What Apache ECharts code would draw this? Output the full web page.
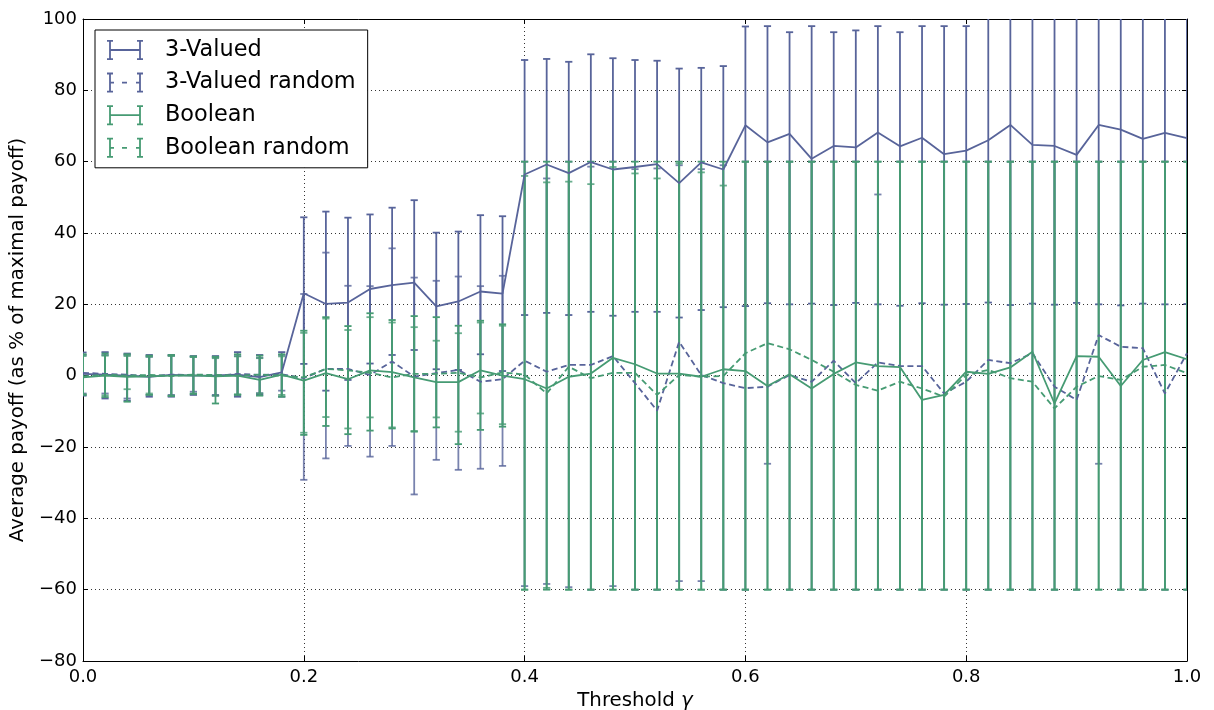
<!DOCTYPE html>
<html><head><meta charset="utf-8">
<script src="https://cdn.jsdelivr.net/npm/echarts/dist/echarts.min.js"></script>
<style>html,body{margin:0;padding:0;background:#fff}#c{width:1214px;height:710px}</style>
</head><body><div id="c"></div><script>
const thresholds = [0.00,0.02,0.04,0.06,0.08,0.10,0.12,0.14,0.16,0.18,0.20,0.22,0.24,0.26,0.28,0.30,0.32,0.34,0.36,0.38,0.40,0.42,0.44,0.46,0.48,0.50,0.52,0.54,0.56,0.58,0.60,0.62,0.64,0.66,0.68,0.70,0.72,0.74,0.76,0.78,0.80,0.82,0.84,0.86,0.88,0.90,0.92,0.94,0.96,0.98,1.00];
const xTicks = [0.0,0.2,0.4,0.6,0.8,1.0];
const yTicks = [-80,-60,-40,-20,0,20,40,60,80,100];
const seriesNames = ['3-Valued','3-Valued random','Boolean','Boolean random'];

const v3Mean = [0.5,0.3,0.0,-0.3,0.2,0.0,0.1,0.3,-0.4,0.9, 23.1,20.1,20.5,24.3,25.4,26.1,19.4,20.8,23.6,23.0, 56.4,59.2,56.8,59.9,57.8,58.5,59.3,54.0,59.8,57.8, 70.2,65.4,67.8,60.8,64.4,64.0,68.2,64.3,66.7,62.1, 63.1,66.0,70.3,64.7,64.4,61.9,70.3,69.0,66.4,68.1, 66.6];
const v3Lo = [-5.6,-6.4,-7.0,-5.9,-5.9,-5.4,-5.6,-5.9,-5.4,-5.9, 3.3,-4.2,-1.2,3.4,5.8,7.2,1.8,1.6,6.0,1.3, 17.0,17.6,17.0,17.9,16.8,17.9,17.9,16.3,18.4,19.2, 19.5,20.3,20.0,20.2,19.8,20.4,20.0,19.6,20.3,19.9, 20.1,20.5,19.8,20.2,19.9,20.4,20.0,19.7,20.2,20.0, 20.1];
const v3Hi = [6.5,6.6,6.2,5.8,5.8,5.5,5.5,6.6,5.8,6.6, 44.4,46.0,44.3,45.2,47.1,49.2,40.1,40.4,45.0,44.7, 88.5,88.8,88.0,90.1,89.0,88.5,88.3,86.1,86.3,86.8, 97.9,98.0,96.3,98.0,96.3,96.8,98.0,96.3,98.0,98.0, 98.0,108,110,106,109,107,111,108,110,107, 109];

const v3rMean = [0.8,0.5,0.3,-0.2,0.3,0.2,-0.1,0.5,0.2,0.4, -0.7,1.9,1.9,0.2,4.0,-0.3,0.7,1.6,-1.7,-1.0, 4.2,1.1,3.0,3.0,5.5,-2.1,-9.8,9.5,0.2,-2.1, -3.5,-3.1,0.2,-1.7,4.2,-2.1,3.7,2.7,2.7,-5.0, -1.7,4.4,3.5,6.3,-3.1,-6.8,11.4,8.1,7.7,-5.0, 6.3];
const v3rLo = [-5.0,-5.0,-6.4,-5.4,-5.4,-4.5,-5.4,-5.4,-4.9,-4.2, -29.2,-23.2,-19.7,-22.7,-19.7,-33.3,-23.6,-26.4,-26.1,-25.3, -59.0,-58.4,-59.3,-60,-59.0,-60,-60,-57.6,-57.6,-60, -60,-24.7,-60,-60,-60,-60,-60,-60,-60,-60, -60,-60,-60,-60,-60,-60,-24.7,-60,-60,-60, -60];
const v3rHi = [5.8,5.8,5.8,5.3,5.6,5.3,5.1,5.5,5.0,5.8, 22.9,34.5,25.2,25.1,35.7,27.5,26.6,27.8,25.1,28.0, 60,55.3,60,58.6,60,57.9,58.1,59.0,57.9,59.0, 60,60,60,60,60,60,50.8,60,60,60, 60,60,60,60,60,60,60,60,60,60, 60];

const vbMean = [-0.5,0.0,-0.3,-0.2,0.0,0.1,-0.2,0.0,-1.2,0.3, -1.4,0.7,-1.0,1.5,1.0,-0.5,-1.8,-1.8,1.5,0.0, -1.0,-3.6,-0.3,0.6,5.0,3.2,0.6,0.6,-0.3,1.8, 1.3,-2.9,0.4,-3.6,0.5,3.7,2.7,2.4,-6.8,-5.4, 1.1,0.5,2.3,6.7,-7.8,5.5,5.3,-2.9,4.4,6.6, 4.6];
const vbLo = [-5.4,-6.0,-7.3,-5.4,-5.7,-5.1,-7.8,-5.4,-5.6,-5.9, -16.6,-14.1,-16.4,-15.4,-14.8,-15.7,-14.5,-19.2,-15.2,-14.3, -60,-60,-60,-60,-60,-60,-60,-60,-60,-60, -60,-60,-60,-60,-60,-60,-60,-60,-60,-60, -60,-60,-60,-60,-60,-60,-60,-60,-60,-60, -60];
const vbHi = [6.0,6.2,6.0,5.6,5.8,5.4,5.3,6.0,5.6,6.0, 12.6,16.4,13.9,17.5,15.6,16.7,16.4,14.0,15.4,14.4, 60,60,60,60,60,60,60,60,60,60, 60,60,60,60,60,60,60,60,60,60, 60,60,60,60,60,60,60,60,60,60, 60];

const vbrMean = [-0.2,0.3,0.0,0.2,-0.1,0.3,0.2,0.0,0.3,0.0, -0.5,1.9,1.5,0.8,-0.5,0.5,0.5,0.8,-0.5,0.9, 0.3,-5.0,2.5,-0.7,0.8,0.8,-5.4,0.2,-0.3,-0.1, 6.3,9.1,7.4,4.4,1.1,-2.6,-4.2,-1.7,-3.6,-5.9, 0.2,1.6,-0.7,-1.7,-9.2,-3.1,-0.1,-1.2,2.5,3.0, 0.7];
const vbrLo = [-5.2,-5.5,-3.8,-5.0,-5.6,-5.0,-5.6,-5.2,-5.0,-5.4, -16.0,-11.6,-14.8,-11.7,-14.5,-15.5,-11.7,-15.7,-10.6,-13.6, -60,-59.5,-60,-60,-60,-60,-60,-60,-60,-60, -60,-60,-60,-60,-60,-60,-60,-60,-60,-60, -60,-60,-60,-60,-60,-60,-60,-60,-60,-60, -60];
const vbrHi = [5.5,5.6,5.5,5.3,5.5,5.2,4.9,5.4,4.9,5.4, 12.0,16.0,12.8,16.4,14.9,13.6,9.8,11.9,14.9,14.0, 56.0,54.2,54.4,53.7,58.5,56.7,55.3,59.5,57.0,53.3, 60,60,60,60,60,60,60,60,60,60, 60,60,60,60,60,60,60,60,60,60, 60];

const BLUE = '#58649a';
const GREEN = '#469b73';
const FONT = 'DejaVu Sans';
const TICK_FS = 18, TITLE_FS = 19.8, LEGEND_FS = 22.4, LW = 1.8;

function errData(lo, hi) { return thresholds.map((x, i) => [x, lo[i], hi[i]]); }
function lineData(m) { return thresholds.map((x, i) => [x, m[i]]); }

function errRender(color, opacity) {
  return function (params, api) {
    const x = api.value(0), lo = api.value(1), hi = api.value(2);
    const a = api.coord([x, hi]), b = api.coord([x, lo]);
    const w = 3.6;
    const st = { stroke: color, lineWidth: LW, opacity: opacity, fill: null };
    return { type: 'group', children: [
      { type: 'line', shape: { x1: a[0], y1: a[1], x2: b[0], y2: b[1] }, style: st },
      { type: 'line', shape: { x1: a[0] - w, y1: a[1], x2: a[0] + w, y2: a[1] }, style: st },
      { type: 'line', shape: { x1: b[0] - w, y1: b[1], x2: b[0] + w, y2: b[1] }, style: st }
    ]};
  };
}
function errSeries(lo, hi, color, opacity) {
  return { type: 'custom', xAxisIndex: 0, yAxisIndex: 0, data: errData(lo, hi), renderItem: errRender(color, opacity),
    encode: { x: 0, y: [1, 2] }, clip: true, silent: true, z: 2 };
}
function lineSeries(name, m, color, dashed) {
  return { type: 'line', name: name, data: lineData(m), showSymbol: false, symbol: 'none', clip: true, z: 3,
    lineStyle: { color: color, width: LW, type: dashed ? [6, 3.5] : 'solid' }, itemStyle: { color: color } };
}

const solidIcon = 'path://M2.1,0h1.8v20h-1.8zM0,0h6v1.8h-6zM0,18.2h6v1.8h-6zM3,9.1h30v1.8h-30zM32.1,0h1.8v20h-1.8zM30,0h6v1.8h-6zM30,18.2h6v1.8h-6z';
const dashIcon = 'path://M2.1,0h1.8v20h-1.8zM0,0h6v1.8h-6zM0,18.2h6v1.8h-6zM3,9.1h4v1.8h-4zM15,9.1h5v1.8h-5zM29,9.1h4v1.8h-4zM32.1,0h1.8v20h-1.8zM30,0h6v1.8h-6zM30,18.2h6v1.8h-6z';

const grid = { left: 83, top: 19, width: 1104, height: 642, containLabel: false, outerBoundsMode: 'none' };
const minus = v => String(v).replace('-', '\u2212');

const option = {
  animation: false,
  backgroundColor: '#fff',
  grid: grid,
  legend: {
    left: 95, top: 30, orient: 'vertical', selectedMode: false,
    itemWidth: 36, itemHeight: 20, itemGap: 10.6,
    padding: [9, 12, 9, 12],
    backgroundColor: '#fff', borderColor: '#000', borderWidth: 1, borderRadius: 0,
    itemStyle: { borderWidth: 0 },
    textStyle: { fontFamily: FONT, fontSize: LEGEND_FS, color: '#000', padding: [0, 0, 0, 17] },
    data: [
      { name: seriesNames[0], icon: solidIcon },
      { name: seriesNames[1], icon: dashIcon },
      { name: seriesNames[2], icon: solidIcon },
      { name: seriesNames[3], icon: dashIcon }
    ]
  },
  xAxis: [{
    type: 'value', min: xTicks[0], max: xTicks[xTicks.length - 1], interval: 0.2,
    name: 'Threshold {g|γ}', nameLocation: 'middle', nameGap: 27,
    nameTextStyle: { fontFamily: FONT, fontSize: TITLE_FS, color: '#000',
      rich: { g: { fontFamily: FONT, fontSize: TITLE_FS, fontStyle: 'italic', color: '#000' } } },
    axisLine: { show: true, onZero: false, lineStyle: { color: '#000', width: 1 } },
    axisTick: { show: true, inside: true, length: 5, lineStyle: { color: '#000' } },
    axisLabel: { fontFamily: FONT, fontSize: TICK_FS, color: '#000', margin: 7, formatter: v => v.toFixed(1) },
    splitLine: { show: true, lineStyle: { color: '#000', width: 0.8, type: [1, 3] } }
  }, {
    type: 'value', position: 'top', min: xTicks[0], max: xTicks[xTicks.length - 1], interval: 0.2,
    axisLine: { show: true, onZero: false, lineStyle: { color: '#000', width: 1 } },
    axisTick: { show: true, inside: true, length: 5, lineStyle: { color: '#000' } },
    axisLabel: { show: false }, splitLine: { show: false }
  }],
  yAxis: [{
    type: 'value', min: yTicks[0], max: yTicks[yTicks.length - 1], interval: 20,
    name: 'Average payoff (as % of maximal payoff)', nameLocation: 'middle', nameGap: 53,
    nameTextStyle: { fontFamily: FONT, fontSize: TITLE_FS, color: '#000' },
    axisLine: { show: true, onZero: false, lineStyle: { color: '#000', width: 1 } },
    axisTick: { show: true, inside: true, length: 5, lineStyle: { color: '#000' } },
    axisLabel: { fontFamily: FONT, fontSize: TICK_FS, color: '#000', margin: 6, formatter: minus },
    splitLine: { show: true, lineStyle: { color: '#000', width: 0.8, type: [1, 3] } }
  }, {
    type: 'value', position: 'right', min: yTicks[0], max: yTicks[yTicks.length - 1], interval: 20,
    axisLine: { show: true, onZero: false, lineStyle: { color: '#000', width: 1 } },
    axisTick: { show: true, inside: true, length: 5, lineStyle: { color: '#000' } },
    axisLabel: { show: false }, splitLine: { show: false }
  }],
  series: [
    errSeries(v3Lo, v3Hi, BLUE, 1),
    errSeries(v3rLo, v3rHi, BLUE, 0.8),
    errSeries(vbLo, vbHi, GREEN, 1),
    errSeries(vbrLo, vbrHi, GREEN, 0.8),
    lineSeries(seriesNames[0], v3Mean, BLUE, false),
    lineSeries(seriesNames[1], v3rMean, BLUE, true),
    lineSeries(seriesNames[2], vbMean, GREEN, false),
    lineSeries(seriesNames[3], vbrMean, GREEN, true)
  ]
};
const chart = echarts.init(document.getElementById('c'), null, { renderer: 'canvas' });
chart.setOption(option);
</script></body></html>
